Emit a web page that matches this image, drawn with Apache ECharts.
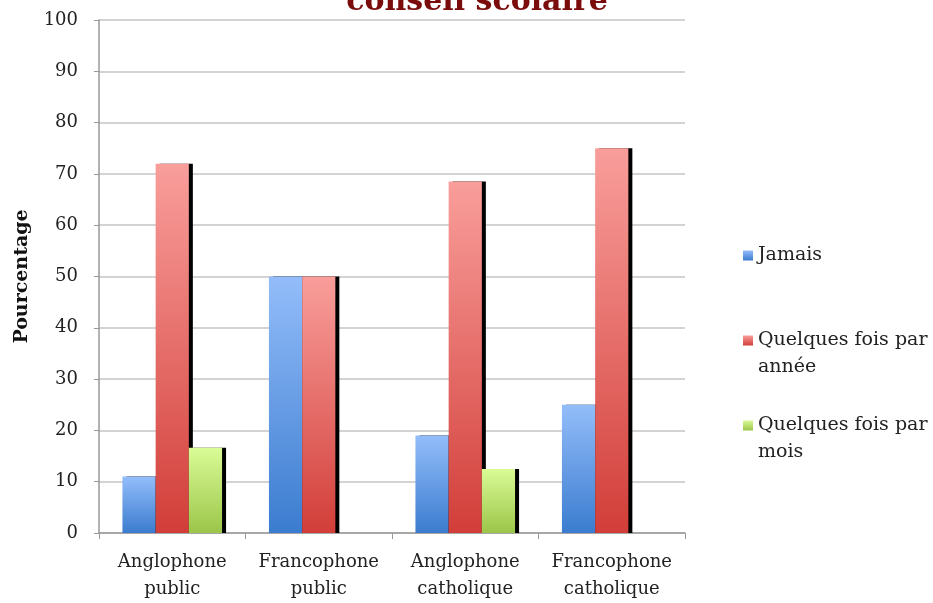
<!DOCTYPE html>
<html>
<head>
<meta charset="utf-8">
<script src="https://cdn.jsdelivr.net/npm/echarts@6/dist/echarts.min.js"></script>
<style>
html,body{margin:0;padding:0;background:#fff;}
#chart{width:933px;height:603px;}
</style>
</head>
<body>
<div id="chart"></div>
<script>
var categories = ['Anglophone\npublic', 'Francophone\npublic', 'Anglophone\ncatholique', 'Francophone\ncatholique'];
var seriesNames = ['Jamais', 'Quelques fois par année', 'Quelques fois par mois'];
// empty lines pad each label so the colour box sits on its first text line
var legendLabels = ['\nJamais\n', '\nQuelques fois par\nannée', '\nQuelques fois par\nmois'];
var jamais = [11, 50, 19, 25];
var parAnnee = [72, 50, 68.5, 75];
var parMois = [16.6, null, 12.5, null];
var yTicks = [0, 100, 10];

var serif = '"DejaVu Serif", serif';

function grad(top, bottom) {
	return new echarts.graphic.LinearGradient(0, 0, 0, 1, [
		{ offset: 0, color: top },
		{ offset: 1, color: bottom }
	]);
}

function barSeries(name, data, top, bottom) {
	return {
		name: name,
		type: 'bar',
		data: data,
		barGap: '0%',
		barCategoryGap: '32%',
		itemStyle: {
			color: grad(top, bottom),
			shadowColor: '#000',
			shadowOffsetX: 4,
			shadowOffsetY: 0,
			shadowBlur: 0
		}
	};
}

var myChart = echarts.init(document.getElementById('chart'));
var option = {
	animation: false,
	title: {
		text: 'conseil scolaire',
		left: 472,
		textAlign: 'center',
		top: -18,
		textStyle: { fontFamily: serif, fontWeight: 'bold', fontSize: 30, color: '#7b0c0c' }
	},
	legend: {
		orient: 'vertical',
		left: 738,
		top: 210,
		itemWidth: 10,
		itemHeight: 10,
		itemGap: 4,
		icon: 'rect',
		data: seriesNames,
		formatter: function(name) {
			return legendLabels[seriesNames.indexOf(name)];
		},
		textStyle: { fontFamily: serif, fontSize: 19, color: '#222', lineHeight: 27 }
	},
	grid: { left: 99, right: 248, top: 20, bottom: 70 },
	xAxis: {
		type: 'category',
		data: categories,
		axisLine: { lineStyle: { color: '#999', width: 1.5 } },
		axisTick: { show: true, length: 6, lineStyle: { color: '#999' } },
		axisLabel: { interval: 0, fontFamily: serif, fontSize: 18, color: '#222', lineHeight: 27, margin: 16 }
	},
	yAxis: {
		type: 'value',
		min: yTicks[0],
		max: yTicks[1],
		interval: yTicks[2],
		name: 'Pourcentage',
		nameLocation: 'middle',
		nameGap: 67,
		nameTextStyle: { fontFamily: serif, fontWeight: 'bold', fontSize: 19, color: '#111' },
		axisLine: { show: true, lineStyle: { color: '#999', width: 1.5 } },
		axisTick: { show: true, length: 5, lineStyle: { color: '#999' } },
		axisLabel: { fontFamily: serif, fontSize: 18, color: '#222', margin: 21 },
		splitLine: { lineStyle: { color: '#c4c4c4', width: 1.5 } }
	},
	series: [
		barSeries(seriesNames[0], jamais, '#93bdfa', '#3b7ccf'),
		barSeries(seriesNames[1], parAnnee, '#f99e9b', '#d23e39'),
		barSeries(seriesNames[2], parMois, '#dafb96', '#9bc649')
	]
};
myChart.setOption(option);
</script>
</body>
</html>
